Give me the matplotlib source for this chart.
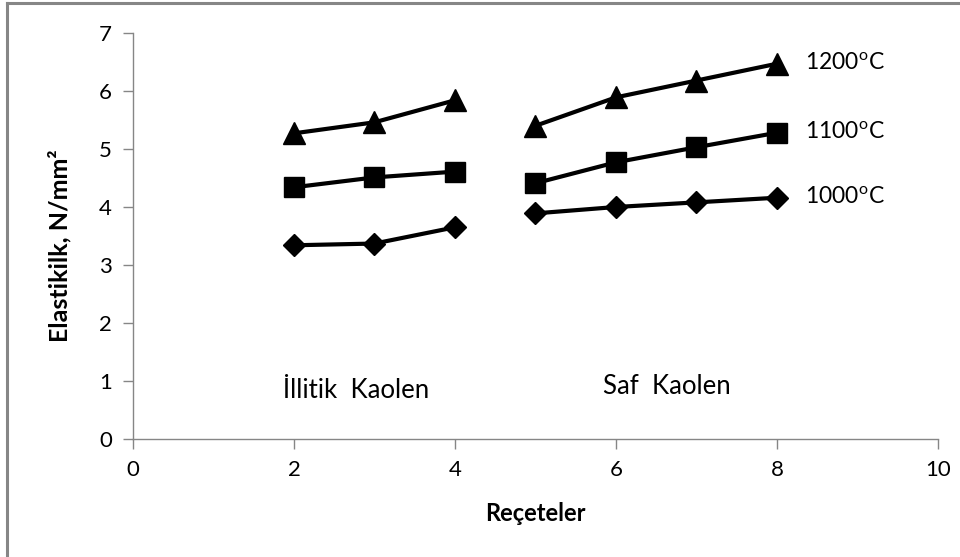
import matplotlib
matplotlib.use("Agg")
import matplotlib.pyplot as plt
from matplotlib.lines import Line2D

plt.rcParams["font.family"] = ["Lato", "DejaVu Sans"]

# recipes: illite kaolin group and pure kaolin group
x_illitik = [2, 3, 4]
x_saf = [5, 6, 7, 8]

temps = ["1000", "1100", "1200"]
markers = {"1000": "D", "1100": "s", "1200": "^"}
msizes = {"1000": 11.5, "1100": 15, "1200": 16}

illitik_vals = {
    "1000": [3.34, 3.37, 3.65],
    "1100": [4.34, 4.51, 4.61],
    "1200": [5.27, 5.46, 5.84],
}
saf_vals = {
    "1000": [3.89, 4.00, 4.08, 4.16],
    "1100": [4.41, 4.77, 5.03, 5.28],
    "1200": [5.40, 5.89, 6.18, 6.47],
}

x_ticks = [0, 2, 4, 6, 8, 10]
y_ticks = [0, 1, 2, 3, 4, 5, 6, 7]

fig = plt.figure(figsize=(9.6, 5.57), dpi=100)
ax = fig.add_axes([0.1385, 0.2118, 0.8385, 0.729])

for t in temps:
    for xs, ys in ((x_illitik, illitik_vals[t]), (x_saf, saf_vals[t])):
        ax.plot(xs, ys, color="black", lw=3, marker=markers[t],
                markersize=msizes[t], markeredgecolor="black", clip_on=False)
    ax.text(8.35, saf_vals[t][-1], f"{t}$^{{\\mathregular{{o}}}}$C",
            fontsize=16.5, va="center", ha="left")

ax.text(1.86, 0.84, "İllitik  Kaolen", fontsize=18.5, va="center", ha="left")
ax.text(5.84, 0.90, "Saf  Kaolen", fontsize=18.5, va="center", ha="left")

ax.set_xlim(0, 10)
ax.set_ylim(0, 7)
ax.set_xticks(x_ticks)
ax.set_yticks(y_ticks)
ax.tick_params(direction="out", length=7, width=1, color="#868686",
               labelsize=16, pad=8)

for side in ("top", "right"):
    ax.spines[side].set_visible(False)
for side in ("left", "bottom"):
    ax.spines[side].set_color("#868686")
    ax.spines[side].set_linewidth(1)

ax.set_xlabel("Reçeteler", fontsize=17, fontweight="bold", labelpad=16)
ax.set_ylabel("Elastikilk, N/mm²", fontsize=18, fontweight="bold")
ax.yaxis.set_label_coords(-0.076, 0.475)

# chart frame, left and top edges
fig.add_artist(Line2D([7 / 960, 7 / 960], [0, 1 - 3 / 557],
                      transform=fig.transFigure, color="#868686", lw=2.2))
fig.add_artist(Line2D([7 / 960, 1], [1 - 3 / 557, 1 - 3 / 557],
                      transform=fig.transFigure, color="#868686", lw=2.2))

fig.savefig("out.png", dpi=100)
